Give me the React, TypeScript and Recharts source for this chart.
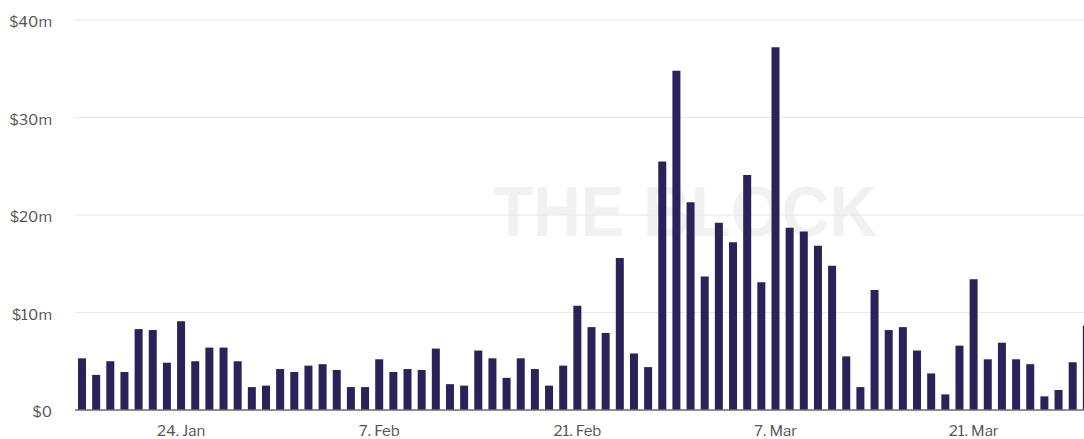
import React from "react";
import { BarChart, Bar, XAxis, YAxis, CartesianGrid } from "recharts";

const dates: string[] = [
  "17. Jan", "18. Jan", "19. Jan", "20. Jan", "21. Jan", "22. Jan", "23. Jan", "24. Jan",
  "25. Jan", "26. Jan", "27. Jan", "28. Jan", "29. Jan", "30. Jan", "31. Jan",
  "1. Feb", "2. Feb", "3. Feb", "4. Feb", "5. Feb", "6. Feb", "7. Feb", "8. Feb", "9. Feb",
  "10. Feb", "11. Feb", "12. Feb", "13. Feb", "14. Feb", "15. Feb", "16. Feb", "17. Feb",
  "18. Feb", "19. Feb", "20. Feb", "21. Feb", "22. Feb", "23. Feb", "24. Feb", "25. Feb",
  "26. Feb", "27. Feb", "28. Feb",
  "1. Mar", "2. Mar", "3. Mar", "4. Mar", "5. Mar", "6. Mar", "7. Mar", "8. Mar", "9. Mar",
  "10. Mar", "11. Mar", "12. Mar", "13. Mar", "14. Mar", "15. Mar", "16. Mar", "17. Mar",
  "18. Mar", "19. Mar", "20. Mar", "21. Mar", "22. Mar", "23. Mar", "24. Mar", "25. Mar",
  "26. Mar", "27. Mar", "28. Mar", "29. Mar",
];

// volume in $ millions
const volumes: number[] = [
  5.3, 3.6, 5.0, 3.9, 8.3, 8.2, 4.85, 9.1, 5.0, 6.4, 6.4, 5.0, 2.35, 2.5, 4.2,
  3.9, 4.55, 4.7, 4.1, 2.35, 2.35, 5.2, 3.9, 4.2, 4.1, 6.3, 2.65, 2.5, 6.1, 5.3,
  3.3, 5.3, 4.2, 2.5, 4.55, 10.7, 8.5, 7.9, 15.6, 5.8, 4.4, 25.5, 34.8,
  21.3, 13.7, 19.2, 17.2, 24.1, 13.1, 37.2, 18.7, 18.3, 16.85, 14.8, 5.5, 2.35,
  12.3, 8.2, 8.5, 6.1, 3.75, 1.6, 6.6, 13.4, 5.2, 6.9, 5.2, 4.7, 1.4, 2.05, 4.9, 8.65,
];

const xTicks: string[] = ["24. Jan", "7. Feb", "21. Feb", "7. Mar", "21. Mar"];
const yTicks: number[] = [0, 10, 20, 30, 40];

const data = dates.map((d, i) => ({ date: d, value: volumes[i] }));

const FONT = "'Libre Franklin', Roboto, 'Open Sans', Arial, sans-serif";

export default function App() {
  return (
    <div
      style={{
        position: "fixed",
        left: 0,
        top: 0,
        width: 1084,
        height: 439,
        overflow: "hidden",
        background: "#ffffff",
      }}
    >
      <svg
        width={1084}
        height={439}
        style={{ position: "absolute", left: 0, top: 0 }}
      >
        <text
          x={493}
          y={236}
          fontFamily="'Liberation Sans', Arial, sans-serif"
          fontWeight={700}
          fontSize={71}
          fill="#f1f1f1"
          textLength={384}
          lengthAdjust="spacingAndGlyphs"
        >
          THE BLOCK
        </text>
      </svg>
      <div style={{ position: "absolute", left: 0, top: 0 }}>
        <BarChart
          width={1094}
          height={439}
          data={data}
          margin={{ top: 20, right: 0, bottom: 0, left: 0 }}
          barSize={8}
        >
          <CartesianGrid vertical={false} stroke="#e8e8e8" strokeWidth={1} />
          <XAxis
            dataKey="date"
            ticks={xTicks}
            interval={0}
            height={29}
            tickLine={false}
            tickSize={0}
            tickMargin={15}
            axisLine={{ stroke: "#6e6e6e", strokeWidth: 1.5 }}
            tick={{ fill: "#555555", fontSize: 15, fontFamily: FONT }}
          />
          <YAxis
            width={75}
            domain={[0, 40]}
            ticks={yTicks}
            interval={0}
            axisLine={false}
            tickLine={false}
            tickSize={0}
            tickMargin={23}
            tickFormatter={(v: number) => (v === 0 ? "$0" : `$${v}m`)}
            tick={{ fill: "#555555", fontSize: 15, fontFamily: FONT, dy: 2 }}
          />
          <Bar
            dataKey="value"
            fill="#2a2259"
            isAnimationActive={false}
          />
        </BarChart>
      </div>
    </div>
  );
}
